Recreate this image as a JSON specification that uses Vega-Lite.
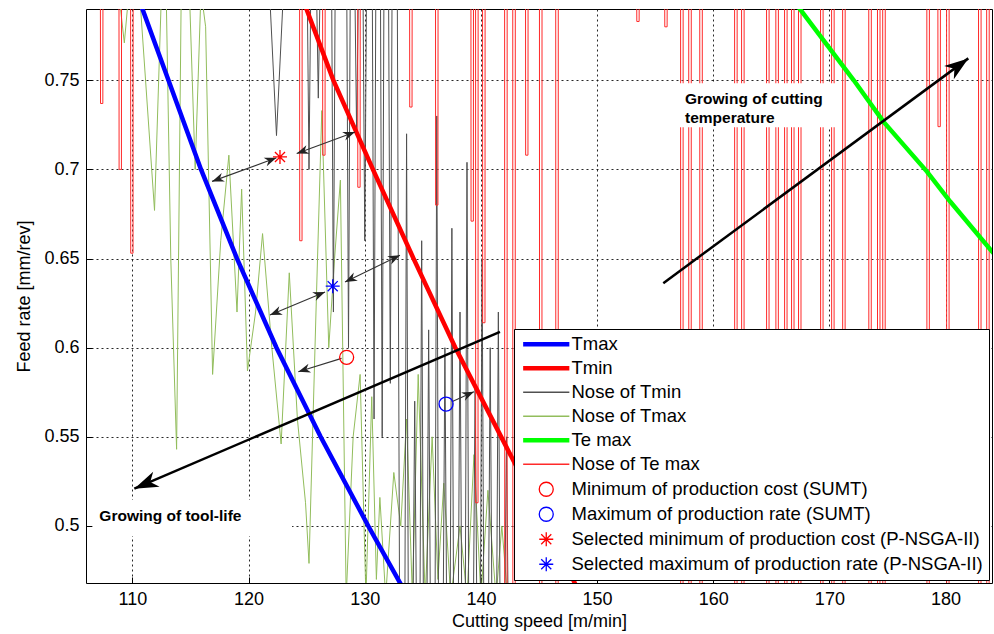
{
  "$schema": "https://vega.github.io/schema/vega-lite/v6.json",
  "width": 906,
  "height": 574,
  "autosize": {"type": "none"},
  "padding": {"left": 86, "top": 9, "right": 2, "bottom": 51},
  "background": "white",
  "config": {
    "font": "Liberation Sans",
    "view": {"stroke": "#000", "strokeWidth": 1},
    "axis": {
      "grid": true, "gridColor": "#111", "gridDash": [2, 3], "gridWidth": 1, "gridOpacity": 0.9,
      "domain": false, "ticks": true, "tickColor": "#000", "tickSize": -6, "tickWidth": 1,
      "labelFont": "Liberation Sans", "labelFontSize": 18, "labelColor": "#000", "labelPadding": 13,
      "titleFont": "Liberation Sans", "titleFontSize": 18, "titleFontWeight": "normal", "titleColor": "#000"
    },
    "legend": {
      "orient": "bottom-right", "offset": 3, "padding": 6, "rowPadding": 5,
      "symbolOffset": 17, "labelOffset": 16, "labelFont": "Liberation Sans", "labelFontSize": 18.5,
      "labelColor": "#000", "labelLimit": 600, "symbolSize": 196, "symbolStrokeWidth": 1.3,
      "strokeColor": "#000", "fillColor": "#fff", "cornerRadius": 0
    }
  },
  "datasets": {
    "tmax": [
      {"x": 110.3, "y": 0.80}, {"x": 113.1, "y": 0.75}, {"x": 115.9, "y": 0.70}, {"x": 119.0, "y": 0.65},
      {"x": 122.4, "y": 0.60}, {"x": 126.2, "y": 0.55}, {"x": 130.3, "y": 0.50}, {"x": 133.3, "y": 0.465}
    ],
    "tmin": [
      {"x": 124.4, "y": 0.80}, {"x": 127.3, "y": 0.75}, {"x": 130.7, "y": 0.70}, {"x": 134.2, "y": 0.65},
      {"x": 137.8, "y": 0.60}, {"x": 141.9, "y": 0.548}, {"x": 145.7, "y": 0.50}, {"x": 148.3, "y": 0.465}
    ],
    "temax": [
      {"x": 166.3, "y": 0.80}, {"x": 172.1, "y": 0.75}, {"x": 174.65, "y": 0.7268}, {"x": 178.4, "y": 0.6988},
      {"x": 180.4, "y": 0.682}, {"x": 184.0, "y": 0.654}, {"x": 184.6, "y": 0.65}
    ],
    "noseTmax": [
      {"x": 108.8, "y": 0.80}, {"x": 109.3, "y": 0.771}, {"x": 109.7, "y": 0.80}, {"x": 110.6, "y": 0.80},
      {"x": 111.9, "y": 0.677}, {"x": 112.5, "y": 0.80}, {"x": 112.9, "y": 0.80}, {"x": 113.3, "y": 0.65},
      {"x": 113.8, "y": 0.543}, {"x": 114.2, "y": 0.80}, {"x": 114.9, "y": 0.80}, {"x": 115.4, "y": 0.70},
      {"x": 115.9, "y": 0.80}, {"x": 116.3, "y": 0.78}, {"x": 116.9, "y": 0.585}, {"x": 117.6, "y": 0.66},
      {"x": 118.3, "y": 0.708}, {"x": 119.0, "y": 0.62}, {"x": 119.4, "y": 0.689}, {"x": 119.9, "y": 0.587},
      {"x": 120.6, "y": 0.62}, {"x": 121.2, "y": 0.664}, {"x": 122.0, "y": 0.60}, {"x": 122.8, "y": 0.546},
      {"x": 123.5, "y": 0.642}, {"x": 124.2, "y": 0.56}, {"x": 124.9, "y": 0.513}, {"x": 125.2, "y": 0.479},
      {"x": 125.8, "y": 0.62}, {"x": 126.3, "y": 0.733}, {"x": 126.9, "y": 0.60}, {"x": 127.4, "y": 0.65},
      {"x": 127.9, "y": 0.694}, {"x": 128.4, "y": 0.46}, {"x": 129.0, "y": 0.55}, {"x": 129.6, "y": 0.585},
      {"x": 130.1, "y": 0.46}, {"x": 130.6, "y": 0.5725}, {"x": 131.0, "y": 0.47}, {"x": 131.3, "y": 0.516},
      {"x": 131.8, "y": 0.46}, {"x": 132.5, "y": 0.53}, {"x": 133.1, "y": 0.50}, {"x": 133.6, "y": 0.56},
      {"x": 134.1, "y": 0.46}, {"x": 134.6, "y": 0.585}, {"x": 135.2, "y": 0.46}, {"x": 135.8, "y": 0.55},
      {"x": 136.3, "y": 0.47}, {"x": 136.8, "y": 0.524}, {"x": 137.4, "y": 0.46}, {"x": 138.2, "y": 0.50},
      {"x": 138.8, "y": 0.46}, {"x": 139.4, "y": 0.54}, {"x": 140.0, "y": 0.46}, {"x": 140.6, "y": 0.52},
      {"x": 141.3, "y": 0.46}, {"x": 141.8, "y": 0.50}, {"x": 142.3, "y": 0.46}
    ],
    "noseTmin": [
      {"x": 121.8, "y": 0.80}, {"x": 122.4, "y": 0.719}, {"x": 123.0, "y": 0.80},
      {"x": 125.05, "y": 0.80}, {"x": 125.2, "y": 0.70}, {"x": 125.35, "y": 0.80},
      {"x": 125.85, "y": 0.80}, {"x": 126.0, "y": 0.74}, {"x": 126.15, "y": 0.80},
      {"x": 127.15, "y": 0.80}, {"x": 127.3, "y": 0.62}, {"x": 127.45, "y": 0.80},
      {"x": 128.45, "y": 0.80}, {"x": 128.6, "y": 0.60}, {"x": 128.75, "y": 0.80},
      {"x": 129.15, "y": 0.80}, {"x": 129.3, "y": 0.72}, {"x": 129.45, "y": 0.80},
      {"x": 129.85, "y": 0.80}, {"x": 130.0, "y": 0.66}, {"x": 130.15, "y": 0.80},
      {"x": 130.65, "y": 0.80}, {"x": 130.8, "y": 0.56}, {"x": 130.95, "y": 0.80},
      {"x": 131.35, "y": 0.80}, {"x": 131.5, "y": 0.55}, {"x": 131.65, "y": 0.80},
      {"x": 132.05, "y": 0.80}, {"x": 132.2, "y": 0.58}, {"x": 132.35, "y": 0.80},
      {"x": 132.8, "y": 0.80}, {"x": 133.0, "y": 0.45},
      {"x": 133.45, "y": 0.45}, {"x": 133.6, "y": 0.72}, {"x": 133.75, "y": 0.45},
      {"x": 134.15, "y": 0.45}, {"x": 134.3, "y": 0.57}, {"x": 134.45, "y": 0.45},
      {"x": 134.75, "y": 0.45}, {"x": 134.9, "y": 0.66}, {"x": 135.05, "y": 0.45},
      {"x": 135.35, "y": 0.45}, {"x": 135.5, "y": 0.61}, {"x": 135.65, "y": 0.45},
      {"x": 136.05, "y": 0.45}, {"x": 136.2, "y": 0.73}, {"x": 136.35, "y": 0.45},
      {"x": 136.75, "y": 0.45}, {"x": 136.9, "y": 0.60}, {"x": 137.05, "y": 0.45},
      {"x": 137.35, "y": 0.45}, {"x": 137.5, "y": 0.667}, {"x": 137.65, "y": 0.45},
      {"x": 138.05, "y": 0.45}, {"x": 138.2, "y": 0.62}, {"x": 138.35, "y": 0.45},
      {"x": 138.65, "y": 0.45}, {"x": 138.8, "y": 0.704}, {"x": 138.95, "y": 0.45},
      {"x": 139.35, "y": 0.45}, {"x": 139.5, "y": 0.58}, {"x": 139.65, "y": 0.45},
      {"x": 139.95, "y": 0.45}, {"x": 140.1, "y": 0.65}, {"x": 140.25, "y": 0.45},
      {"x": 140.65, "y": 0.45}, {"x": 140.8, "y": 0.60}, {"x": 140.95, "y": 0.45},
      {"x": 141.35, "y": 0.45}, {"x": 141.5, "y": 0.62}, {"x": 141.65, "y": 0.45},
      {"x": 142.05, "y": 0.45}, {"x": 142.2, "y": 0.55}, {"x": 142.35, "y": 0.45}
    ],
    "noseTe": [
      {"x": 107.24, "y": 0.8}, {"x": 107.25, "y": 0.737}, {"x": 107.45, "y": 0.737}, {"x": 107.46, "y": 0.8},
      {"x": 108.84, "y": 0.8}, {"x": 108.85, "y": 0.7}, {"x": 109.05, "y": 0.7}, {"x": 109.06, "y": 0.8},
      {"x": 109.84, "y": 0.8}, {"x": 109.85, "y": 0.653}, {"x": 110.05, "y": 0.653}, {"x": 110.06, "y": 0.8},
      {"x": 124.39, "y": 0.8}, {"x": 124.4, "y": 0.66}, {"x": 124.6, "y": 0.66}, {"x": 124.61, "y": 0.8},
      {"x": 126.37, "y": 0.8}, {"x": 126.38, "y": 0.708}, {"x": 126.58, "y": 0.708}, {"x": 126.59, "y": 0.8},
      {"x": 129.39, "y": 0.8}, {"x": 129.4, "y": 0.69}, {"x": 129.6, "y": 0.69}, {"x": 129.61, "y": 0.8},
      {"x": 133.86, "y": 0.8}, {"x": 133.87, "y": 0.735}, {"x": 134.07, "y": 0.735}, {"x": 134.08, "y": 0.8},
      {"x": 136.09, "y": 0.8}, {"x": 136.1, "y": 0.68}, {"x": 136.3, "y": 0.68}, {"x": 136.31, "y": 0.8},
      {"x": 139.14, "y": 0.8}, {"x": 139.15, "y": 0.671}, {"x": 139.35, "y": 0.671}, {"x": 139.36, "y": 0.8},
      {"x": 139.54, "y": 0.8}, {"x": 139.55, "y": 0.513}, {"x": 139.75, "y": 0.513}, {"x": 139.76, "y": 0.8},
      {"x": 140.14, "y": 0.8}, {"x": 140.15, "y": 0.614}, {"x": 140.35, "y": 0.614}, {"x": 140.36, "y": 0.8},
      {"x": 142.04, "y": 0.8}, {"x": 142.05, "y": 0.4}, {"x": 142.25, "y": 0.4}, {"x": 142.26, "y": 0.8},
      {"x": 142.74, "y": 0.8}, {"x": 142.75, "y": 0.4}, {"x": 142.95, "y": 0.4}, {"x": 142.96, "y": 0.8},
      {"x": 143.84, "y": 0.8}, {"x": 143.85, "y": 0.708}, {"x": 144.05, "y": 0.708}, {"x": 144.06, "y": 0.8},
      {"x": 145.04, "y": 0.8}, {"x": 145.05, "y": 0.4}, {"x": 145.25, "y": 0.4}, {"x": 145.26, "y": 0.8},
      {"x": 146.44, "y": 0.8}, {"x": 146.45, "y": 0.4}, {"x": 146.65, "y": 0.4}, {"x": 146.66, "y": 0.8},
      {"x": 153.41, "y": 0.8}, {"x": 153.42, "y": 0.783}, {"x": 153.62, "y": 0.783}, {"x": 153.63, "y": 0.8},
      {"x": 155.82, "y": 0.8}, {"x": 155.83, "y": 0.78}, {"x": 156.03, "y": 0.78}, {"x": 156.04, "y": 0.8},
      {"x": 157.19, "y": 0.8}, {"x": 157.2, "y": 0.4}, {"x": 157.4, "y": 0.4}, {"x": 157.41, "y": 0.8},
      {"x": 157.89, "y": 0.8}, {"x": 157.9, "y": 0.4}, {"x": 158.1, "y": 0.4}, {"x": 158.11, "y": 0.8},
      {"x": 158.84, "y": 0.8}, {"x": 158.85, "y": 0.4}, {"x": 159.05, "y": 0.4}, {"x": 159.06, "y": 0.8},
      {"x": 161.84, "y": 0.8}, {"x": 161.85, "y": 0.4}, {"x": 162.05, "y": 0.4}, {"x": 162.06, "y": 0.8},
      {"x": 162.44, "y": 0.8}, {"x": 162.45, "y": 0.4}, {"x": 162.65, "y": 0.4}, {"x": 162.66, "y": 0.8},
      {"x": 164.59, "y": 0.8}, {"x": 164.6, "y": 0.4}, {"x": 164.8, "y": 0.4}, {"x": 164.81, "y": 0.8},
      {"x": 165.39, "y": 0.8}, {"x": 165.4, "y": 0.4}, {"x": 165.6, "y": 0.4}, {"x": 165.61, "y": 0.8},
      {"x": 166.14, "y": 0.8}, {"x": 166.15, "y": 0.4}, {"x": 166.35, "y": 0.4}, {"x": 166.36, "y": 0.8},
      {"x": 166.74, "y": 0.8}, {"x": 166.75, "y": 0.4}, {"x": 166.95, "y": 0.4}, {"x": 166.96, "y": 0.8},
      {"x": 167.34, "y": 0.8}, {"x": 167.35, "y": 0.4}, {"x": 167.55, "y": 0.4}, {"x": 167.56, "y": 0.8},
      {"x": 169.24, "y": 0.8}, {"x": 169.25, "y": 0.4}, {"x": 169.45, "y": 0.4}, {"x": 169.46, "y": 0.8},
      {"x": 170.19, "y": 0.8}, {"x": 170.2, "y": 0.4}, {"x": 170.4, "y": 0.4}, {"x": 170.41, "y": 0.8},
      {"x": 171.14, "y": 0.8}, {"x": 171.15, "y": 0.4}, {"x": 171.35, "y": 0.4}, {"x": 171.36, "y": 0.8},
      {"x": 173.39, "y": 0.8}, {"x": 173.4, "y": 0.4}, {"x": 173.6, "y": 0.4}, {"x": 173.61, "y": 0.8},
      {"x": 174.14, "y": 0.8}, {"x": 174.15, "y": 0.4}, {"x": 174.35, "y": 0.4}, {"x": 174.36, "y": 0.8},
      {"x": 174.59, "y": 0.8}, {"x": 174.6, "y": 0.4}, {"x": 174.8, "y": 0.4}, {"x": 174.81, "y": 0.8},
      {"x": 178.39, "y": 0.8}, {"x": 178.4, "y": 0.4}, {"x": 178.6, "y": 0.4}, {"x": 178.61, "y": 0.8},
      {"x": 179.34, "y": 0.8}, {"x": 179.35, "y": 0.724}, {"x": 179.55, "y": 0.724}, {"x": 179.56, "y": 0.8},
      {"x": 180.09, "y": 0.8}, {"x": 180.1, "y": 0.4}, {"x": 180.3, "y": 0.4}, {"x": 180.31, "y": 0.8},
      {"x": 182.84, "y": 0.8}, {"x": 182.85, "y": 0.4}, {"x": 183.05, "y": 0.4}, {"x": 183.06, "y": 0.8},
      {"x": 183.54, "y": 0.8}, {"x": 183.55, "y": 0.4}, {"x": 183.75, "y": 0.4}, {"x": 183.76, "y": 0.8}
    ],
    "boxes": [
      {"x": 106.55, "x2": 123.74, "y": 0.4944, "y2": 0.5146},
      {"x": 156.8, "x2": 170.57, "y": 0.7237, "y2": 0.7483}
    ],
    "pointers": [
      {"x": 116.85, "y": 0.6933, "x2": 122.4, "y2": 0.7065},
      {"x": 124.14, "y": 0.7089, "x2": 129.16, "y2": 0.721},
      {"x": 121.84, "y": 0.6183, "x2": 126.58, "y2": 0.6313},
      {"x": 128.3, "y": 0.6369, "x2": 133.03, "y2": 0.6519},
      {"x": 124.28, "y": 0.5865, "x2": 128.0, "y2": 0.594},
      {"x": 137.49, "y": 0.5697, "x2": 139.4, "y2": 0.5753}
    ],
    "trends": [
      {"x": 110.16, "y": 0.5209, "x2": 141.64, "y2": 0.6089},
      {"x": 155.7, "y": 0.6362, "x2": 181.96, "y2": 0.7623}
    ],
    "optima": [
      {"series": "Minimum of production cost (SUMT)", "x": 128.44, "y": 0.5946},
      {"series": "Maximum of production rate (SUMT)", "x": 137.0, "y": 0.5684},
      {"series": "Selected minimum of production cost (P-NSGA-II)", "x": 122.7, "y": 0.707},
      {"series": "Selected maximum of production rate (P-NSGA-II)", "x": 127.24, "y": 0.6345}
    ],
    "labels": [
      {"t": "Growing of tool-life", "x": 107.15, "y": 0.5056},
      {"t": "Growing of cutting", "x": 157.57, "y": 0.7395},
      {"t": "temperature", "x": 157.57, "y": 0.7287}
    ]
  },
  "encoding": {
    "x": {
      "field": "x", "type": "quantitative",
      "scale": {"domain": [106, 184], "nice": false, "zero": false},
      "axis": {"title": "Cutting speed [m/min]", "values": [110, 120, 130, 140, 150, 160, 170, 180], "format": "d", "titlePadding": 4}
    },
    "y": {
      "field": "y", "type": "quantitative",
      "scale": {"domain": [0.468, 0.79], "nice": false, "zero": false},
      "axis": {"title": "Feed rate [mm/rev]", "values": [0.5, 0.55, 0.6, 0.65, 0.7, 0.75], "format": "~g", "titlePadding": 10}
    }
  },
  "layer": [
    {"data": {"name": "noseTmax"}, "mark": {"type": "line", "stroke": "#92BD5C", "strokeWidth": 1, "clip": true}, "encoding": {}},
    {"data": {"name": "noseTmin"}, "mark": {"type": "line", "stroke": "#505050", "strokeWidth": 1, "clip": true}, "encoding": {}},
    {"data": {"name": "noseTe"}, "mark": {"type": "line", "stroke": "#FF2A2A", "strokeWidth": 1, "clip": true}, "encoding": {}},
    {"data": {"name": "boxes"}, "mark": {"type": "rect", "fill": "#fff", "strokeWidth": 0}, "encoding": {"x2": {"field": "x2"}, "y2": {"field": "y2"}}},
    {"data": {"name": "tmax"}, "mark": {"type": "line", "stroke": "#0000FF", "strokeWidth": 4.5, "clip": true}, "encoding": {}},
    {"data": {"name": "tmin"}, "mark": {"type": "line", "stroke": "#FF0000", "strokeWidth": 4.5, "clip": true}, "encoding": {}},
    {"data": {"name": "temax"}, "mark": {"type": "line", "stroke": "#00FF00", "strokeWidth": 4.5, "clip": true}, "encoding": {}},
    {"data": {"name": "pointers"}, "mark": {"type": "rule", "color": "#333", "strokeWidth": 1.1}, "encoding": {"x2": {"field": "x2"}, "y2": {"field": "y2"}}},
    {"data": {"name": "trends"}, "mark": {"type": "rule", "color": "#000", "strokeWidth": 2.5}, "encoding": {"x2": {"field": "x2"}, "y2": {"field": "y2"}}},
    {"data": {"values": [{"x": 116.85, "y": 0.6933}]}, "mark": {"type": "point", "shape": "M0,0L-1,-0.38L-0.7,0L-1,0.38Z", "size": 576, "angle": 159.9, "filled": true, "color": "#222", "opacity": 1}, "encoding": {}},
    {"data": {"values": [{"x": 122.4, "y": 0.7065}]}, "mark": {"type": "point", "shape": "M0,0L-1,-0.38L-0.7,0L-1,0.38Z", "size": 576, "angle": -20.1, "filled": true, "color": "#222", "opacity": 1}, "encoding": {}},
    {"data": {"values": [{"x": 124.14, "y": 0.7089}]}, "mark": {"type": "point", "shape": "M0,0L-1,-0.38L-0.7,0L-1,0.38Z", "size": 576, "angle": 159.7, "filled": true, "color": "#222", "opacity": 1}, "encoding": {}},
    {"data": {"values": [{"x": 129.16, "y": 0.721}]}, "mark": {"type": "point", "shape": "M0,0L-1,-0.38L-0.7,0L-1,0.38Z", "size": 576, "angle": -20.3, "filled": true, "color": "#222", "opacity": 1}, "encoding": {}},
    {"data": {"values": [{"x": 121.84, "y": 0.6183}]}, "mark": {"type": "point", "shape": "M0,0L-1,-0.38L-0.7,0L-1,0.38Z", "size": 576, "angle": 157.2, "filled": true, "color": "#222", "opacity": 1}, "encoding": {}},
    {"data": {"values": [{"x": 126.58, "y": 0.6313}]}, "mark": {"type": "point", "shape": "M0,0L-1,-0.38L-0.7,0L-1,0.38Z", "size": 576, "angle": -22.8, "filled": true, "color": "#222", "opacity": 1}, "encoding": {}},
    {"data": {"values": [{"x": 128.3, "y": 0.6369}]}, "mark": {"type": "point", "shape": "M0,0L-1,-0.38L-0.7,0L-1,0.38Z", "size": 576, "angle": 154.0, "filled": true, "color": "#222", "opacity": 1}, "encoding": {}},
    {"data": {"values": [{"x": 133.03, "y": 0.6519}]}, "mark": {"type": "point", "shape": "M0,0L-1,-0.38L-0.7,0L-1,0.38Z", "size": 576, "angle": -26.0, "filled": true, "color": "#222", "opacity": 1}, "encoding": {}},
    {"data": {"values": [{"x": 124.28, "y": 0.5865}]}, "mark": {"type": "point", "shape": "M0,0L-1,-0.38L-0.7,0L-1,0.38Z", "size": 576, "angle": 162.8, "filled": true, "color": "#222", "opacity": 1}, "encoding": {}},
    {"data": {"values": [{"x": 139.4, "y": 0.5753}]}, "mark": {"type": "point", "shape": "M0,0L-1,-0.38L-0.7,0L-1,0.38Z", "size": 576, "angle": -24.2, "filled": true, "color": "#222", "opacity": 1}, "encoding": {}},
    {"data": {"values": [{"x": 110.16, "y": 0.5209}]}, "mark": {"type": "point", "shape": "M0,0L-1,-0.34L-0.72,0L-1,0.34Z", "size": 2304, "angle": 156.8, "filled": true, "color": "#000", "opacity": 1}, "encoding": {}},
    {"data": {"values": [{"x": 181.96, "y": 0.7623}]}, "mark": {"type": "point", "shape": "M0,0L-1,-0.34L-0.72,0L-1,0.34Z", "size": 2304, "angle": -36.4, "filled": true, "color": "#000", "opacity": 1}, "encoding": {}},
    {
      "data": {"name": "optima"},
      "mark": {"type": "point", "size": 196, "strokeWidth": 1.3, "filled": false, "opacity": 1},
      "encoding": {
        "stroke": {
          "field": "series", "type": "nominal",
          "scale": {
            "domain": ["Tmax", "Tmin", "Nose of Tmin", "Nose of Tmax", "Te max", "Nose of Te max", "Minimum of production cost (SUMT)", "Maximum of production rate (SUMT)", "Selected minimum of production cost (P-NSGA-II)", "Selected maximum of production rate (P-NSGA-II)"],
            "range": ["#0000FF", "#FF0000", "#505050", "#92BD5C", "#00FF00", "#FF2A2A", "#FF0000", "#0000FF", "#FF0000", "#0000FF"]
          },
          "legend": {"title": null}
        },
        "shape": {
          "field": "series", "type": "nominal",
          "scale": {
            "domain": ["Tmax", "Tmin", "Nose of Tmin", "Nose of Tmax", "Te max", "Nose of Te max", "Minimum of production cost (SUMT)", "Maximum of production rate (SUMT)", "Selected minimum of production cost (P-NSGA-II)", "Selected maximum of production rate (P-NSGA-II)"],
            "range": [
              "M-3.3,-0.24L3.3,-0.24M-3.3,-0.08L3.3,-0.08M-3.3,0.08L3.3,0.08M-3.3,0.24L3.3,0.24",
              "M-3.3,-0.24L3.3,-0.24M-3.3,-0.08L3.3,-0.08M-3.3,0.08L3.3,0.08M-3.3,0.24L3.3,0.24",
              "M-3.3,0L3.3,0",
              "M-3.3,0L3.3,0",
              "M-3.3,-0.24L3.3,-0.24M-3.3,-0.08L3.3,-0.08M-3.3,0.08L3.3,0.08M-3.3,0.24L3.3,0.24",
              "M-3.3,0L3.3,0",
              "circle",
              "circle",
              "M0,-1L0,1M-1,0L1,0M-0.72,-0.72L0.72,0.72M-0.72,0.72L0.72,-0.72",
              "M0,-1L0,1M-1,0L1,0M-0.72,-0.72L0.72,0.72M-0.72,0.72L0.72,-0.72"
            ]
          },
          "legend": {"title": null}
        }
      }
    },
    {
      "data": {"name": "labels"},
      "mark": {"type": "text", "align": "left", "baseline": "middle", "font": "Liberation Sans", "fontWeight": "bold", "fontSize": 15.5, "color": "#000"},
      "encoding": {"text": {"field": "t", "type": "nominal"}}
    }
  ]
}
